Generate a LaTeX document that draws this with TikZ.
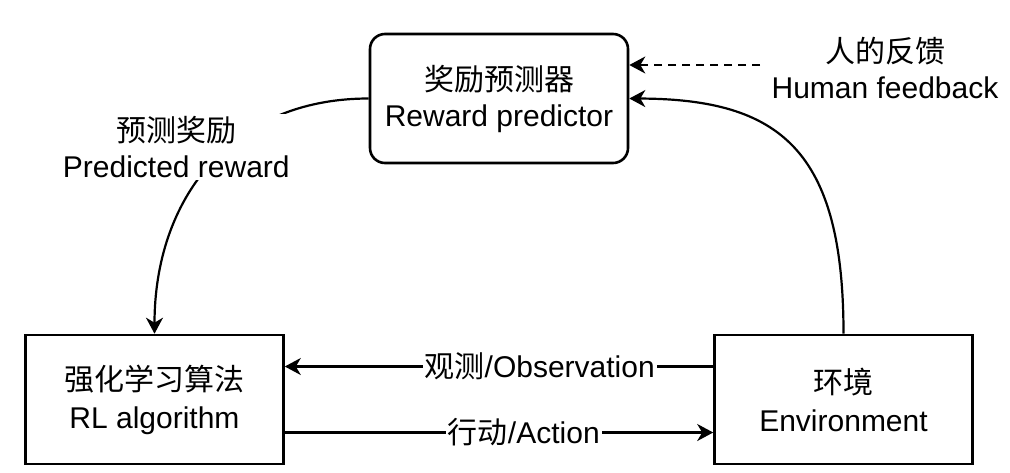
\documentclass[tikz,border=0pt]{standalone}
\usepackage{fontspec}
\setmainfont{Liberation Sans}
\newfontfamily\cjk{Noto Sans CJK SC}
\usetikzlibrary{arrows.meta}
\begin{document}
\begin{tikzpicture}[x=0.5pt,y=-0.5pt,
  every node/.style={font=\fontsize{15pt}{17pt}\selectfont},
  box/.style={draw,line width=1.3pt,minimum width=129pt,minimum height=64.5pt,align=center,inner sep=0pt},
  rbox/.style={box,rounded corners=7.5pt},
  conn/.style={line width=1.1pt,-{Stealth[length=8pt,width=8.5pt,inset=2.5pt]}},
  lbl/.style={fill=white,inner sep=1pt,align=center}]
\useasboundingbox (0,0) rectangle (1010,472);
\node[rbox] (pred) at (499,98.5) {{\cjk 奖励预测器}\\[1pt]Reward predictor};
\node[box] (rl) at (154.5,399.5) {{\cjk 强化学习算法}\\[2pt]RL algorithm};
\node[box] (env) at (843.5,399.5) {{\cjk 环境}\\[2pt]Environment};
\node[lbl,align=center] (hfl) at (885,68) {{\cjk 人的反馈}\\[1pt]Human feedback};
\coordinate (hf) at (760,65);
% predicted reward
\draw[conn] (pred.west) .. controls (230,98.5) and (154.5,200) .. (rl.north)
  node[lbl,pos=0.42,xshift=-26pt] (prl) {{\cjk 预测奖励}\\[1pt]Predicted reward};
% environment to predictor
\draw[conn] (env.north) .. controls (843.5,150) and (780,99) .. (pred.east);
% human feedback
\draw[conn,dashed,dash pattern=on 4pt off 3pt] (hf) -- (pred.east |- hf);
% observation
\draw[conn] ([yshift=16.5pt]env.west) -- node[lbl,pos=0.405] (obsl) {{\cjk 观测}/Observation} ([yshift=16.5pt]rl.east);
% action
\draw[conn] ([yshift=-16.5pt]rl.east) -- node[lbl,pos=0.558] (actl) {{\cjk 行动}/Action} ([yshift=-16.5pt]env.west);
\end{tikzpicture}
\end{document}
